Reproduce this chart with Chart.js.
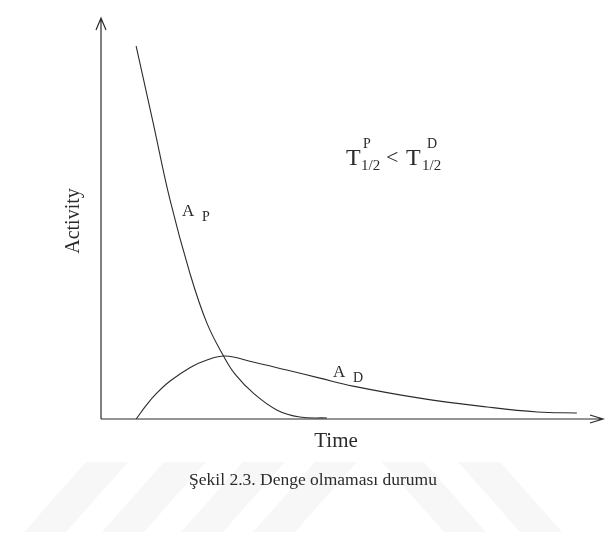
<!DOCTYPE html>
<html>
<head>
<meta charset="utf-8">
<script src="https://cdn.jsdelivr.net/npm/chart.js@4/dist/chart.umd.min.js"></script>
<style>
  html, body { margin: 0; padding: 0; background: #fff; }
  #wrap { width: 615px; height: 544px; }
</style>
</head>
<body>
<div id="wrap"><canvas id="decayChart" width="615" height="544"></canvas></div>
<script>
// Curve points (time, activity), both axes 0..100
const parentTime = [7.0, 10.4, 13.7, 17.7, 21.1, 24.5, 26.7, 30.3, 35.1, 39.6, 45.0];
const parentActivity = [93.0, 73.8, 54.9, 36.4, 23.9, 15.5, 11.2, 6.5, 2.2, 0.5, 0.25];

const daughterTime = [7.0, 9.0, 11.0, 13.7, 17.7, 21.1, 24.7, 30.3, 37.0, 43.6, 50.2, 63.5, 76.9, 86.9, 94.8];
const daughterActivity = [0, 3.4, 6.3, 9.4, 12.8, 14.7, 15.7, 14.2, 12.2, 10.2, 8.2, 5.2, 3.0, 1.75, 1.5];

const xTitle = 'Time';
const yTitle = 'Activity';
const caption = 'Şekil 2.3. Denge olmaması durumu';

const serif = '"Liberation Serif", "DejaVu Serif", serif';
const ink = '#2b2b2b';

const toPoints = (xs, ys) => xs.map((x, i) => ({ x: x, y: ys[i] }));

// very faint watermark stripes behind the caption
const watermark = {
    id: 'watermark',
    beforeDraw(chart) {
        const ctx = chart.ctx;
        ctx.save();
        ctx.fillStyle = '#f7f7f7';
        [24, 102, 181, 253].forEach(x0 => {
            ctx.beginPath();
            ctx.moveTo(x0, 532);
            ctx.lineTo(x0 + 42, 532);
            ctx.lineTo(x0 + 104, 462);
            ctx.lineTo(x0 + 62, 462);
            ctx.closePath();
            ctx.fill();
        });
        [382, 458].forEach(x0 => {
            ctx.beginPath();
            ctx.moveTo(x0, 462);
            ctx.lineTo(x0 + 42, 462);
            ctx.lineTo(x0 + 104, 532);
            ctx.lineTo(x0 + 62, 532);
            ctx.closePath();
            ctx.fill();
        });
        ctx.restore();
    }
};

// axes with arrow heads and all the text labels
const annotations = {
    id: 'annotations',
    afterDatasetsDraw(chart) {
        const { ctx, chartArea: a } = chart;
        ctx.save();
        ctx.strokeStyle = ink;
        ctx.lineWidth = 1.2;
        ctx.beginPath();
        ctx.moveTo(a.left, a.bottom);
        ctx.lineTo(a.left, a.top);
        ctx.moveTo(a.left - 5, a.top + 12);
        ctx.lineTo(a.left, a.top);
        ctx.lineTo(a.left + 5, a.top + 12);
        ctx.moveTo(a.left, a.bottom);
        ctx.lineTo(a.right, a.bottom);
        ctx.moveTo(a.right - 13, a.bottom - 4);
        ctx.lineTo(a.right, a.bottom);
        ctx.lineTo(a.right - 13, a.bottom + 4);
        ctx.stroke();

        ctx.fillStyle = ink;
        ctx.textBaseline = 'alphabetic';

        // axis titles
        ctx.font = '21px ' + serif;
        ctx.textAlign = 'center';
        ctx.fillText(xTitle, 336, 447);
        ctx.font = '20px ' + serif;
        ctx.save();
        ctx.translate(79, 221);
        ctx.rotate(-Math.PI / 2);
        ctx.fillText(yTitle, 0, 0);
        ctx.restore();

        // caption
        ctx.font = '17.5px ' + serif;
        ctx.fillText(caption, 313, 485);

        // curve labels
        ctx.textAlign = 'left';
        ctx.font = '17px ' + serif;
        ctx.fillText('A', 182, 216);
        ctx.fillText('A', 333, 377);
        ctx.font = '14px ' + serif;
        ctx.fillText('P', 202, 221);
        ctx.fillText('D', 353, 382);

        // half-life relation
        ctx.font = '24px ' + serif;
        ctx.fillText('T', 346, 165);
        ctx.fillText('T', 406, 165);
        ctx.font = '22px ' + serif;
        ctx.fillText('<', 386, 164);
        ctx.font = '15px ' + serif;
        ctx.fillText('1/2', 361, 170);
        ctx.fillText('1/2', 422, 170);
        ctx.font = '14px ' + serif;
        ctx.fillText('P', 363, 148);
        ctx.fillText('D', 427, 148);
        ctx.restore();
    }
};

const curveStyle = {
    borderColor: ink,
    borderWidth: 1.1,
    pointRadius: 0,
    fill: false,
    tension: 0.4
};

new Chart(document.getElementById('decayChart'), {
    type: 'line',
    data: {
        datasets: [
            { label: 'A P', data: toPoints(parentTime, parentActivity), ...curveStyle },
            { label: 'A D', data: toPoints(daughterTime, daughterActivity), ...curveStyle }
        ]
    },
    options: {
        responsive: false,
        animation: false,
        layout: { padding: { left: 101, right: 12, top: 18, bottom: 125 } },
        plugins: {
            legend: { display: false },
            tooltip: { enabled: false }
        },
        scales: {
            x: { type: 'linear', min: 0, max: 100, display: false },
            y: { type: 'linear', min: 0, max: 100, display: false }
        }
    },
    plugins: [watermark, annotations]
});
</script>
</body>
</html>
